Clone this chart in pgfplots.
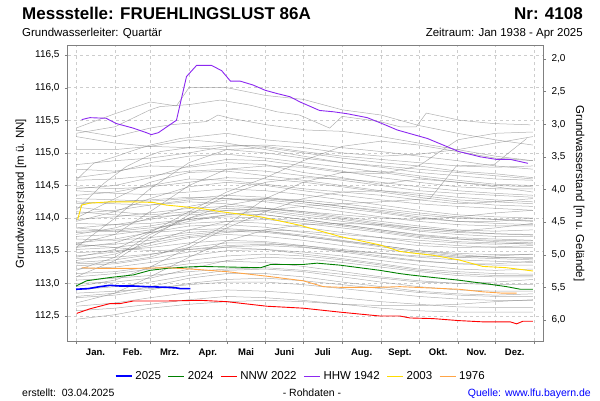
\documentclass[border=0pt]{standalone}
\usepackage{fontspec}
\setmainfont{Liberation Sans}
\usepackage{pgfplots}
\pgfplotsset{compat=1.18}
\definecolor{hhw}{RGB}{140,40,240}
\definecolor{y03}{RGB}{255,220,0}
\definecolor{o76}{RGB}{255,165,70}
\definecolor{g24}{RGB}{0,128,0}
\definecolor{axgray}{RGB}{128,128,128}
\definecolor{gridgray}{RGB}{205,205,205}
\pgfplotsset{gl/.style={color=black!50, draw opacity=0.62, line width=0.5pt, forget plot}}
\begin{document}
\begin{tikzpicture}[x=1pt,y=1pt]
\path (0,0) rectangle (600,400);
\begin{axis}[
  at={(68pt,59pt)}, anchor=south west, scale only axis, width=475pt, height=295pt,
  xmin=-6.4, xmax=372, ymin=112.117, ymax=116.638,
  axis line style={axgray, line width=1pt},
  xtick={15.5,45,74.5,105,135.5,166,196.5,227.5,258,288.5,319,349.5},
  xticklabels={Jan.,Feb.,Mrz.,Apr.,Mai,Juni,Juli,Aug.,Sept.,Okt.,Nov.,Dez.},
  major x tick style={draw=none},
  minor xtick={0,31,59,90,120,151,181,212,243,273,304,334,365},
  xminorgrids, minor x grid style={gridgray, dashed},
  minor tick length=3pt, major tick length=3pt,
  ytick={112.5,113,113.5,114,114.5,115,115.5,116,116.5},
  ymajorgrids, major y grid style={gridgray, dashed},
  tick align=outside, xtick pos=bottom, ytick pos=left,
  tick style={axgray},
  /pgf/number format/assume math mode=true,
  /pgf/number format/.cd, use comma, fixed, fixed zerofill, precision=1, /pgfplots/.cd,
  yticklabel style={font=\fontsize{10}{12}\selectfont, xshift=-2pt},
  xticklabel style={font=\bfseries\fontsize{9.5}{11}\selectfont, yshift=-1pt},
  every axis y label/.style={at={(axis description cs:-0.099,0.5)}, rotate=90, anchor=center, font=\fontsize{11.5}{13}\selectfont},
  ylabel={Grundwasserstand [m ü. NN]},
  legend style={at={(axis description cs:0.49,-0.119)}, anchor=center, draw=none, fill=none, legend columns=6,
     font=\fontsize{11.5}{13}\selectfont, /tikz/every even column/.append style={column sep=5pt},
     /tikz/every odd column/.append style={column sep=1pt}},
  legend image code/.code={\draw[#1] (0pt,0pt) -- (16pt,0pt);},
]
% ---- background years (gray) ----
\addplot[gl] coordinates {(0,115.38)(31,115.60)(59,115.78)(80,115.72)(90,116.00)(120,116.00)(151,115.88)(181,115.82)(212,115.66)(243,115.58)(273,115.42)(304,115.30)(334,115.20)(364,115.12)};
\addplot[gl] coordinates {(0,115.30)(31,115.40)(59,115.66)(67,115.71)(90,115.74)(115,115.81)(139,115.73)(160,115.63)(178,115.58)(202,115.38)(212,115.56)(242,115.48)(258,115.40)(271,115.40)(279,115.61)(306,115.50)(332,115.45)(362,115.43)};
\addplot[gl] coordinates {(0,115.35)(31,115.25)(59,115.38)(75,115.43)(104,115.48)(113,115.58)(123,115.53)(152,115.43)(184,115.35)(212,115.33)(243,115.25)(273,115.15)(304,115.05)(334,114.95)(364,114.88)};
\addplot[gl] coordinates {(0,115.25)(31,115.15)(59,115.10)(90,115.08)(120,115.12)(151,115.10)(181,115.02)(212,114.95)(243,114.90)(273,114.85)(304,114.80)(334,114.78)(364,114.80)};
\addplot[gl] coordinates {(0,115.05)(31,115.05)(59,115.10)(90,115.20)(120,115.15)(151,115.05)(181,114.95)(212,114.85)(243,114.78)(273,114.70)(304,114.65)(334,114.60)(364,114.58)};
\addplot[gl] coordinates {(0,114.82)(31,114.88)(59,114.92)(90,115.00)(120,115.10)(151,115.12)(181,115.08)(212,115.00)(243,114.95)(273,114.98)(304,115.05)(334,115.15)(364,115.25)};
\addplot[gl] coordinates {(0,114.58)(14,114.84)(31,114.94)(46,115.04)(59,115.12)(83,115.22)(120,115.30)(151,115.20)(181,115.15)(212,115.08)(243,115.02)(273,114.95)(304,114.88)(334,114.80)(364,114.75)};
\addplot[gl] coordinates {(0,114.12)(22,114.53)(40,114.79)(56,114.94)(67,115.02)(90,115.08)(120,115.05)(151,115.00)(181,114.92)(212,114.85)(243,114.80)(273,114.75)(304,114.70)(334,114.65)(364,114.60)};
\addplot[gl] coordinates {(0,113.55)(31,114.00)(59,114.45)(90,114.85)(120,115.05)(151,115.08)(181,115.00)(212,114.92)(243,114.85)(273,114.80)(304,114.72)(334,114.68)(364,114.62)};
\addplot[gl] coordinates {(0,113.40)(31,113.52)(59,113.78)(90,114.10)(120,114.40)(151,114.62)(181,114.88)(212,115.10)(243,115.18)(273,115.12)(304,115.02)(334,114.92)(364,114.88)};
\addplot[gl] coordinates {(0,113.80)(31,113.82)(59,113.88)(90,113.98)(120,114.05)(151,114.12)(181,114.18)(212,114.22)(243,114.25)(282,114.30)(303,114.80)(333,114.82)(359,115.22)};
\addplot[gl] coordinates {(0,113.10)(31,113.35)(59,113.70)(90,114.05)(120,114.35)(151,114.55)(181,114.62)(212,114.60)(243,114.55)(273,114.48)(304,114.42)(334,114.38)(364,114.35)};
\addplot[gl] coordinates {(0,112.95)(31,113.05)(59,113.25)(90,113.55)(120,113.85)(151,114.10)(181,114.30)(212,114.40)(243,114.42)(273,114.38)(304,114.32)(334,114.28)(364,114.25)};
\addplot[gl] coordinates {(0,113.60)(31,113.75)(59,114.10)(90,114.50)(120,114.75)(151,114.80)(181,114.78)(212,114.70)(243,114.68)(273,114.80)(304,115.20)(334,115.30)(364,115.32)};
\addplot[gl] coordinates {(0,112.70)(31,112.85)(59,113.10)(90,113.40)(120,113.65)(151,113.82)(181,113.90)(212,113.92)(243,113.90)(273,113.85)(304,113.80)(334,113.76)(364,113.74)};
\addplot[gl] coordinates {(0,113.20)(31,113.40)(59,113.75)(90,114.00)(120,114.20)(151,114.30)(181,114.28)(212,114.22)(243,114.15)(273,114.08)(304,114.02)(334,113.98)(364,113.95)};
\addplot[gl] coordinates {(0,113.30)(31,113.32)(59,113.40)(90,113.60)(120,113.90)(151,114.30)(181,114.55)(212,114.70)(243,114.72)(273,114.65)(304,114.58)(334,114.52)(364,114.50)};
\addplot[gl] coordinates {(0,114.58)(31,114.60)(59,114.65)(90,114.72)(120,114.75)(151,114.72)(181,114.65)(212,114.58)(243,114.50)(273,114.42)(304,114.38)(334,114.35)(364,114.32)};
\addplot[gl] coordinates {(0,114.48)(31,114.45)(59,114.48)(90,114.55)(120,114.62)(151,114.60)(181,114.55)(212,114.48)(243,114.40)(273,114.32)(304,114.25)(334,114.20)(364,114.18)};
\addplot[gl] coordinates {(0,114.42)(31,114.38)(59,114.36)(90,114.40)(120,114.45)(151,114.42)(181,114.36)(212,114.28)(243,114.20)(273,114.12)(304,114.05)(334,114.02)(364,114.00)};
\addplot[gl] coordinates {(0,114.35)(31,114.40)(59,114.50)(90,114.60)(120,114.58)(151,114.52)(181,114.45)(212,114.40)(243,114.35)(273,114.28)(304,114.22)(334,114.25)(364,114.30)};
\addplot[gl] coordinates {(0,114.30)(31,114.28)(59,114.26)(90,114.30)(120,114.35)(151,114.32)(181,114.25)(212,114.18)(243,114.10)(273,114.02)(304,113.95)(334,113.92)(364,113.90)};
\addplot[gl] coordinates {(0,114.22)(31,114.25)(59,114.28)(90,114.32)(120,114.30)(151,114.25)(181,114.18)(212,114.10)(243,114.02)(273,113.95)(304,113.90)(334,113.88)(364,113.88)};
\addplot[gl] coordinates {(0,114.17)(31,114.10)(59,114.05)(90,114.10)(120,114.15)(151,114.12)(181,114.05)(212,113.98)(243,113.90)(273,113.82)(304,113.78)(334,113.76)(364,113.75)};
\addplot[gl] coordinates {(0,114.07)(31,114.12)(59,114.20)(90,114.28)(120,114.30)(151,114.28)(181,114.22)(212,114.15)(243,114.08)(273,114.00)(304,113.95)(334,113.95)(364,114.00)};
\addplot[gl] coordinates {(0,113.98)(31,114.02)(59,114.08)(90,114.15)(120,114.18)(151,114.15)(181,114.10)(212,114.05)(243,114.00)(273,113.98)(304,114.02)(334,114.08)(364,114.12)};
\addplot[gl] coordinates {(0,113.92)(31,113.90)(59,113.92)(90,113.98)(120,114.02)(151,114.00)(181,113.95)(212,113.88)(243,113.80)(273,113.72)(304,113.68)(334,113.66)(364,113.65)};
\addplot[gl] coordinates {(0,113.85)(31,113.90)(59,113.98)(90,114.08)(120,114.12)(151,114.10)(181,114.02)(212,113.95)(243,113.88)(273,113.80)(304,113.75)(334,113.72)(364,113.72)};
\addplot[gl] coordinates {(0,113.78)(31,113.80)(59,113.85)(90,113.92)(120,113.95)(151,113.92)(181,113.86)(212,113.78)(243,113.70)(273,113.62)(304,113.58)(334,113.55)(364,113.55)};
\addplot[gl] coordinates {(0,113.72)(31,113.75)(59,113.82)(90,113.95)(120,114.05)(151,114.05)(181,113.98)(212,113.90)(243,113.82)(273,113.75)(304,113.70)(334,113.68)(364,113.66)};
\addplot[gl] coordinates {(0,113.68)(31,113.66)(59,113.70)(90,113.78)(120,113.82)(151,113.80)(181,113.74)(212,113.66)(243,113.58)(273,113.50)(304,113.46)(334,113.44)(364,113.44)};
\addplot[gl] coordinates {(0,113.62)(31,113.68)(59,113.78)(90,113.88)(120,113.90)(151,113.86)(181,113.78)(212,113.70)(243,113.64)(273,113.58)(304,113.55)(334,113.56)(364,113.58)};
\addplot[gl] coordinates {(0,113.57)(31,113.60)(59,113.66)(90,113.75)(120,113.80)(151,113.78)(181,113.72)(212,113.64)(243,113.56)(273,113.48)(304,113.42)(334,113.40)(364,113.38)};
\addplot[gl] coordinates {(0,113.52)(31,113.55)(59,113.62)(90,113.72)(120,113.78)(151,113.82)(181,113.80)(212,113.75)(243,113.70)(273,113.66)(304,113.62)(334,113.60)(364,113.62)};
\addplot[gl] coordinates {(0,113.47)(31,113.50)(59,113.55)(90,113.62)(120,113.66)(151,113.64)(181,113.58)(212,113.50)(243,113.42)(273,113.35)(304,113.30)(334,113.28)(364,113.28)};
\addplot[gl] coordinates {(0,113.42)(31,113.48)(59,113.58)(90,113.70)(120,113.75)(151,113.72)(181,113.66)(212,113.58)(243,113.52)(273,113.46)(304,113.40)(334,113.38)(364,113.36)};
\addplot[gl] coordinates {(0,113.38)(31,113.40)(59,113.45)(90,113.52)(120,113.58)(151,113.60)(181,113.58)(212,113.52)(243,113.46)(273,113.40)(304,113.36)(334,113.34)(364,113.32)};
\addplot[gl] coordinates {(0,113.32)(31,113.36)(59,113.44)(90,113.55)(120,113.62)(151,113.62)(181,113.56)(212,113.48)(243,113.40)(273,113.34)(304,113.30)(334,113.30)(364,113.34)};
\addplot[gl] coordinates {(0,113.27)(31,113.30)(59,113.38)(90,113.48)(120,113.56)(151,113.58)(181,113.55)(212,113.50)(243,113.46)(273,113.42)(304,113.40)(334,113.42)(364,113.45)};
\addplot[gl] coordinates {(0,113.15)(31,113.18)(59,113.25)(90,113.35)(120,113.42)(151,113.45)(181,113.42)(212,113.36)(243,113.28)(273,113.20)(304,113.15)(334,113.12)(364,113.12)};
\addplot[gl] coordinates {(0,113.10)(31,113.15)(59,113.22)(90,113.30)(120,113.34)(151,113.32)(181,113.26)(212,113.18)(243,113.10)(273,113.04)(304,113.00)(334,112.98)(364,112.98)};
\addplot[gl] coordinates {(0,113.05)(31,113.08)(59,113.12)(90,113.18)(120,113.22)(151,113.24)(181,113.20)(212,113.14)(243,113.08)(273,113.02)(304,113.00)(334,113.02)(364,113.06)};
\addplot[gl] coordinates {(0,112.90)(31,112.95)(59,113.02)(90,113.12)(120,113.20)(151,113.22)(181,113.18)(212,113.10)(243,113.02)(273,112.95)(304,112.90)(334,112.88)(364,112.88)};
\addplot[gl] coordinates {(0,112.85)(31,112.88)(59,112.92)(90,112.98)(120,113.02)(151,113.02)(181,112.98)(212,112.92)(243,112.86)(273,112.80)(304,112.76)(334,112.74)(364,112.74)};
\addplot[gl] coordinates {(0,112.78)(31,112.82)(59,112.90)(90,113.00)(120,113.06)(151,113.08)(181,113.04)(212,112.98)(243,112.92)(273,112.86)(304,112.82)(334,112.80)(364,112.80)};
\addplot[gl] coordinates {(0,112.65)(31,112.70)(59,112.78)(90,112.86)(120,112.90)(151,112.88)(181,112.84)(212,112.78)(243,112.72)(273,112.68)(304,112.64)(334,112.63)(364,112.63)};
\addplot[gl] coordinates {(0,112.58)(31,112.62)(59,112.68)(90,112.75)(120,112.80)(151,112.78)(181,112.74)(212,112.68)(243,112.62)(273,112.58)(304,112.56)(334,112.56)(364,112.56)};
\addplot[gl] coordinates {(0,112.45)(31,112.52)(59,112.62)(90,112.68)(120,112.72)(151,112.74)(181,112.72)(212,112.68)(243,112.66)(273,112.66)(304,112.68)(334,112.72)(364,112.75)};
\addplot[gl] coordinates {(0,113.60)(31,113.55)(59,113.50)(90,113.52)(120,113.55)(151,113.52)(181,113.45)(212,113.38)(243,113.30)(273,113.22)(304,113.18)(334,113.15)(364,113.14)};
\addplot[gl] coordinates {(0,113.85)(31,113.80)(59,113.78)(90,113.82)(120,113.84)(151,113.80)(181,113.72)(212,113.65)(243,113.58)(273,113.50)(304,113.44)(334,113.40)(364,113.40)};
\addplot[gl] coordinates {(0,114.10)(31,114.05)(59,114.02)(90,114.05)(120,114.08)(151,114.05)(181,113.98)(212,113.90)(243,113.82)(273,113.74)(304,113.68)(334,113.64)(364,113.62)};
\addplot[gl] coordinates {(0,114.62)(31,114.70)(59,114.85)(90,114.95)(120,114.98)(151,114.92)(181,114.85)(212,114.78)(243,114.70)(273,114.62)(304,114.55)(334,114.50)(364,114.48)};
\addplot[gl] coordinates {(0,114.45)(31,114.50)(59,114.62)(90,114.80)(120,114.90)(151,114.88)(181,114.80)(212,114.72)(243,114.62)(273,114.55)(304,114.48)(334,114.45)(364,114.45)};
\addplot[gl] coordinates {(0,113.95)(31,114.10)(59,114.30)(90,114.48)(120,114.55)(151,114.50)(181,114.42)(212,114.35)(243,114.28)(273,114.22)(304,114.18)(334,114.15)(364,114.12)};
\addplot[gl] coordinates {(0,113.75)(31,113.85)(59,114.00)(90,114.18)(120,114.28)(151,114.30)(181,114.25)(212,114.18)(243,114.12)(273,114.05)(304,114.00)(334,113.98)(364,113.96)};
\addplot[gl] coordinates {(0,113.55)(31,113.62)(59,113.80)(90,114.00)(120,114.12)(151,114.15)(181,114.10)(212,114.02)(243,113.95)(273,113.88)(304,113.82)(334,113.80)(364,113.82)};
\addplot[gl] coordinates {(0,113.35)(31,113.45)(59,113.62)(90,113.82)(120,113.95)(151,113.98)(181,113.92)(212,113.85)(243,113.78)(273,113.70)(304,113.64)(334,113.62)(364,113.60)};
\addplot[gl] coordinates {(0,113.22)(31,113.25)(59,113.32)(90,113.42)(120,113.50)(151,113.52)(181,113.48)(212,113.42)(243,113.35)(273,113.28)(304,113.22)(334,113.20)(364,113.22)};
\addplot[gl] coordinates {(0,113.00)(31,113.02)(59,113.08)(90,113.22)(120,113.35)(151,113.40)(181,113.38)(212,113.32)(243,113.25)(273,113.18)(304,113.12)(334,113.10)(364,113.10)};
\addplot[gl] coordinates {(0,112.80)(31,112.85)(59,112.95)(90,113.08)(120,113.15)(151,113.15)(181,113.10)(212,113.02)(243,112.95)(273,112.88)(304,112.84)(334,112.82)(364,112.84)};
\addplot[gl] coordinates {(0,114.25)(31,114.22)(59,114.20)(90,114.25)(120,114.22)(151,114.15)(181,114.08)(212,114.00)(243,113.92)(273,113.85)(304,113.80)(334,113.85)(364,113.92)};
\addplot[gl] coordinates {(0,114.75)(31,114.72)(59,114.80)(90,114.78)(120,114.85)(151,114.82)(181,114.70)(212,114.62)(243,114.52)(273,114.60)(304,114.55)(334,114.48)(364,114.40)};
\addplot[gl] coordinates {(0,114.00)(31,114.30)(59,114.55)(90,114.70)(120,114.72)(151,114.65)(181,114.58)(212,114.50)(243,114.42)(273,114.35)(304,114.28)(334,114.25)(364,114.22)};
% ---- highlighted years ----
\addplot[color=blue, line width=1.6pt] coordinates {(0,112.91)(9.8,112.92)(19,112.95)(27,112.97)(35,112.96)(45.7,112.96)(56,112.95)(72,112.94)(80,112.93)(83,112.92)(91,112.92)};
\addlegendentry{2025}
\addplot[color=g24, line width=0.9pt] coordinates {(0,112.96)(8.5,113.04)(27,113.09)(45.7,113.13)(59,113.20)(72,113.23)(88,113.25)(99,113.26)(147,113.24)(155,113.29)(181,113.29)(192,113.31)(210,113.28)(242,113.20)(258,113.15)(266,113.13)(284.7,113.09)(304.6,113.05)(324.5,113.00)(343,112.95)(354,112.91)(364,112.91)};
\addlegendentry{2024}
\addplot[color=red, line width=0.9pt] coordinates {(0.5,112.54)(11,112.61)(27,112.69)(35,112.69)(45.7,112.73)(72,112.73)(99,112.74)(120,112.72)(152,112.65)(181,112.62)(210,112.56)(242,112.50)(258,112.50)(266,112.47)(284.7,112.46)(304.6,112.43)(324.5,112.41)(346,112.41)(351,112.38)(356,112.42)(364,112.42)};
\addlegendentry{NNW 2022}
\addplot[color=hhw, line width=0.9pt] coordinates {(4.5,115.51)(11,115.54)(24,115.53)(32,115.45)(45.5,115.38)(56,115.31)(60,115.28)(65.6,115.31)(80,115.50)(88,116.17)(96,116.34)(108,116.34)(116,116.26)(123,116.10)(130.7,116.10)(141,116.04)(150.6,115.96)(160,115.91)(170.5,115.86)(178.5,115.78)(194,115.65)(205,115.63)(216,115.60)(232,115.54)(245,115.44)(256,115.35)(280,115.22)(305,115.02)(322,114.94)(335,114.90)(346,114.90)(360,114.84)};
\addlegendentry{HHW 1942}
\addplot[color=y03, line width=0.9pt] coordinates {(1.3,113.98)(4.5,114.20)(11,114.23)(27,114.25)(45.7,114.25)(61.6,114.24)(72,114.20)(88,114.17)(99,114.15)(115,114.10)(147,114.02)(178.5,113.89)(210,113.72)(242,113.59)(258,113.49)(266,113.47)(284.6,113.43)(305,113.36)(324,113.26)(343,113.24)(364,113.19)};
\addlegendentry{2003}
\addplot[color=o76, line width=0.9pt] coordinates {(4.5,113.24)(19,113.23)(45.7,113.23)(72,113.24)(91,113.22)(99,113.21)(120,113.18)(152,113.11)(181,113.04)(197,112.95)(210,112.94)(242,112.94)(258,112.95)(305,112.91)(324.5,112.87)(340,112.85)(351,112.85)};
\addlegendentry{1976}
\end{axis}
\begin{axis}[
  at={(68pt,59pt)}, anchor=south west, scale only axis, width=475pt, height=295pt,
  xmin=-6.4, xmax=372, ymin=1.802, ymax=6.323, y dir=reverse,
  axis x line=none, axis y line*=right,
  axis line style={axgray, line width=1pt},
  ytick={2,2.5,3,3.5,4,4.5,5,5.5,6},
  tick align=outside, major tick length=3pt, tick style={axgray},
  /pgf/number format/assume math mode=true,
  /pgf/number format/.cd, use comma, fixed, fixed zerofill, precision=1, /pgfplots/.cd,
  yticklabel style={font=\fontsize{10}{12}\selectfont, xshift=2pt},
  every axis y label/.style={at={(axis description cs:1.076,0.5)}, rotate=-90, anchor=center, font=\fontsize{11.5}{13}\selectfont},
  ylabel={Grundwasserstand [m u. Gelände]},
]
\addplot[draw=none, forget plot] coordinates {(0,3)};
\end{axis}
\node[inner sep=0pt, anchor=base west, font=\bfseries\fontsize{17}{19}\selectfont] at (22,380) {Messstelle: FRUEHLINGSLUST 86A};
\node[inner sep=0pt, anchor=base east, font=\bfseries\fontsize{17}{19}\selectfont] at (583,380) {Nr: 4108};
\node[inner sep=0pt, anchor=base west, font=\fontsize{11.5}{13}\selectfont] at (22,363) {Grundwasserleiter: Quartär};
\node[inner sep=0pt, anchor=base east, font=\fontsize{11.5}{13}\selectfont] at (583,363) {Zeitraum: Jan 1938 - Apr 2025};
\node[inner sep=0pt, anchor=base west, font=\fontsize{10.5}{12}\selectfont] at (22,4) {erstellt:\ \ 03.04.2025};
\node[inner sep=0pt, anchor=base, font=\fontsize{10.5}{12}\selectfont] at (312,4) {- Rohdaten -};
\node[inner sep=0pt, anchor=base east, font=\fontsize{10.5}{12}\selectfont, text=blue] at (591,4) {Quelle: www.lfu.bayern.de};
\end{tikzpicture}
\end{document}
